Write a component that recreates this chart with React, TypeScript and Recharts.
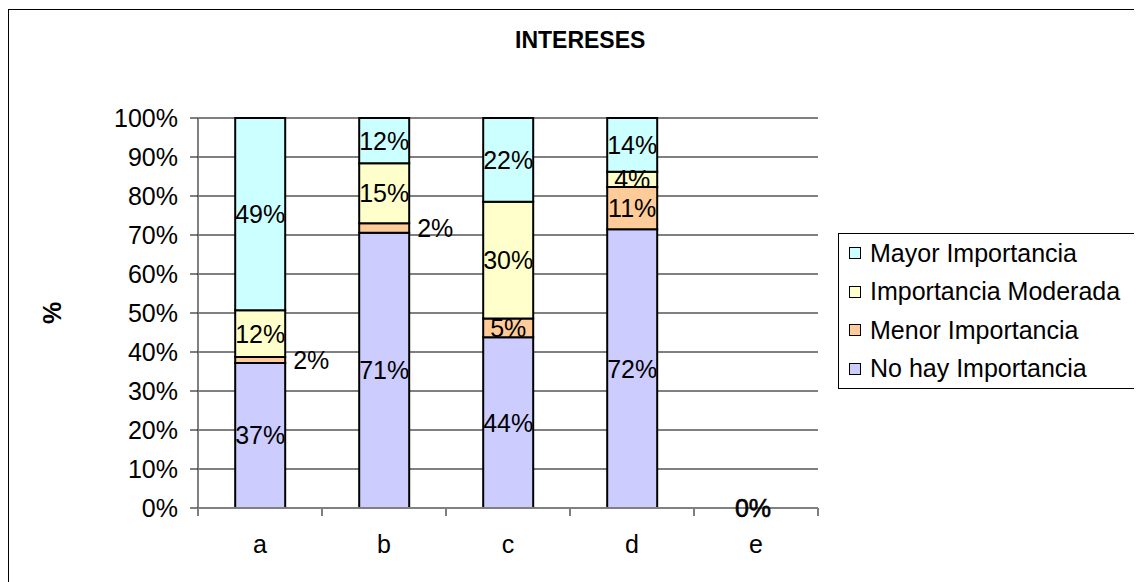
import React from "react";
import { BarChart, Bar, XAxis, YAxis, CartesianGrid, LabelList, Legend } from "recharts";

const CATEGORIES = ["a", "b", "c", "d", "e"];
const NO_HAY = [37.2, 70.6, 43.8, 71.5, 0];
const MENOR = [1.5, 2.4, 4.8, 10.8, 0];
const MODERADA = [12.0, 15.4, 29.9, 3.9, 0];
const MAYOR = [49.3, 11.6, 21.5, 13.8, 0];
const Y_TICKS = [0, 10, 20, 30, 40, 50, 60, 70, 80, 90, 100];

const SERIES = [
  { key: "noHay", name: "No hay Importancia", color: "#CCCCFF" },
  { key: "menor", name: "Menor Importancia", color: "#FFCC99" },
  { key: "moderada", name: "Importancia Moderada", color: "#FFFFCC" },
  { key: "mayor", name: "Mayor Importancia", color: "#CCFFFF" },
];

const data = CATEGORIES.map((cat, i) => ({
  cat,
  noHay: NO_HAY[i],
  menor: MENOR[i],
  moderada: MODERADA[i],
  mayor: MAYOR[i],
  total: NO_HAY[i] + MENOR[i] + MODERADA[i] + MAYOR[i],
}));

const FONT = "'Liberation Sans', Arial, sans-serif";
const FS = 25;
const X_TICK = 8;
const X_GAP = 19;

function makeLabel(sideSmall: boolean) {
  return (props: any) => {
    const x = Number(props.x);
    const y = Number(props.y);
    const w = Number(props.width);
    const h = Number(props.height);
    const v = Number(props.value);
    const txt = `${Math.round(v)}%`;
    if (sideSmall && v > 0 && v < 3) {
      return (
        <text x={x + w + 8} y={y + h / 2} textAnchor="start" dominantBaseline="central" fontSize={FS} fill="#000">
          {txt}
        </text>
      );
    }
    return (
      <text x={x + w / 2} y={y + h / 2} textAnchor="middle" dominantBaseline="central" fontSize={FS} fill="#000">
        {txt}
      </text>
    );
  };
}

function XTick(props: any) {
  const { x, y, payload, index, visibleTicksCount } = props;
  const off = payload?.offset ?? 62;
  const axisY = y - X_TICK - X_GAP;
  const last = index === (visibleTicksCount ?? CATEGORIES.length) - 1;
  const row = data.find((d) => d.cat === payload.value);
  const empty = row && row.total === 0;
  return (
    <g>
      <line x1={x - off} y1={axisY} x2={x - off} y2={axisY + X_TICK} stroke="#808080" strokeWidth={2} />
      {last && <line x1={x + off} y1={axisY} x2={x + off} y2={axisY + X_TICK} stroke="#808080" strokeWidth={2} />}
      {empty && (
        <text x={x - 3} y={axisY} textAnchor="middle" dominantBaseline="central" fontSize={FS} fill="#000" stroke="#000" strokeWidth={0.6}>
          0%
        </text>
      )}
      <text x={x} y={y} dy="0.71em" textAnchor="middle" fontSize={FS} fill="#000">
        {payload.value}
      </text>
    </g>
  );
}

function LegendBox() {
  const items = [...SERIES].reverse();
  return (
    <div style={{ border: "1px solid #000", background: "#fff", width: 310, height: 156, boxSizing: "border-box" }}>
      {items.map((it) => (
        <div
          key={it.key}
          style={{
            display: "flex",
            alignItems: "center",
            height: 38.5,
            paddingLeft: 10,
            fontSize: FS,
            fontFamily: FONT,
            color: "#000",
            whiteSpace: "nowrap",
          }}
        >
          <span style={{ display: "inline-block", width: 10, height: 10, border: "1.5px solid #000", background: it.color, marginRight: 9 }} />
          <span>{it.name}</span>
        </div>
      ))}
    </div>
  );
}

export default function App() {
  return (
    <div
      style={{
        position: "relative",
        top: 1,
        width: 1134,
        height: 574,
        borderTop: "1px solid #000",
        borderLeft: "1px solid #000",
        boxSizing: "border-box",
        overflow: "hidden",
        fontFamily: FONT,
        background: "#fff",
      }}
    >
      <div style={{ position: "absolute", left: 506, top: 19, fontSize: 23, fontWeight: "bold", lineHeight: 1, color: "#000" }}>
        INTERESES
      </div>
      <div
        style={{
          position: "absolute",
          left: 43,
          top: 303,
          fontSize: FS,
          fontWeight: "bold",
          lineHeight: 1,
          transform: "translate(-50%, -50%) rotate(-90deg)",
        }}
      >
        %
      </div>
      <BarChart
        width={1133}
        height={572}
        data={data}
        margin={{ top: 108, right: 324, left: 89, bottom: 24 }}
        barCategoryGap="30%"
      >
        <CartesianGrid vertical={false} stroke="#000" strokeWidth={1} />
        <XAxis
          xAxisId="top"
          dataKey="cat"
          orientation="top"
          height={0}
          tick={false}
          tickLine={false}
          axisLine={{ stroke: "#808080", strokeWidth: 2 }}
        />
        <YAxis
          width={100}
          domain={[0, 100]}
          ticks={Y_TICKS}
          tickFormatter={(v: number) => `${v}%`}
          tick={{ fontSize: FS, fill: "#000" }}
          tickSize={8}
          tickMargin={12}
          tickLine={{ stroke: "#000" }}
          axisLine={{ stroke: "#808080", strokeWidth: 2 }}
          interval={0}
        />
        <YAxis
          yAxisId="right"
          orientation="right"
          width={0}
          domain={[0, 100]}
          tick={false}
          tickLine={false}
          axisLine={{ stroke: "#808080", strokeWidth: 2 }}
        />
        {SERIES.map((s) => (
          <Bar
            key={s.key}
            dataKey={s.key}
            name={s.name}
            stackId="s"
            fill={s.color}
            stroke="#000"
            strokeWidth={2}
            isAnimationActive={false}
          >
            <LabelList dataKey={s.key} content={makeLabel(s.key === "menor")} />
          </Bar>
        ))}
        <XAxis
          dataKey="cat"
          height={50}
          tickLine={false}
          tickSize={X_TICK}
          tickMargin={X_GAP}
          axisLine={{ stroke: "#808080", strokeWidth: 2 }}
          tick={<XTick />}
          interval={0}
        />
        <Legend
          layout="vertical"
          align="center"
          verticalAlign="middle"
          content={<LegendBox />}
          wrapperStyle={{ position: "absolute", left: 829, top: 223, width: 310, height: 156 }}
        />
      </BarChart>
    </div>
  );
}
